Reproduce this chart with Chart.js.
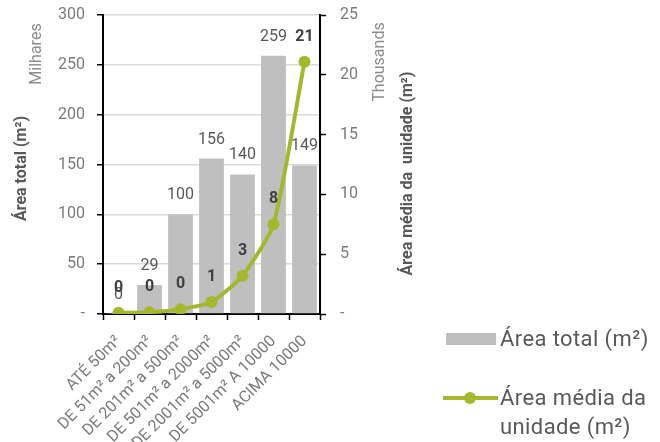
<!DOCTYPE html>
<html>
<head>
<meta charset="utf-8">
<script src="https://cdn.jsdelivr.net/npm/chart.js@4/dist/chart.umd.min.js"></script>
<style>
  html, body { margin: 0; padding: 0; background: #ffffff; }
  #wrap { position: relative; width: 660px; height: 442px; overflow: hidden; }
  #c { position: absolute; left: 0; top: 0; }
  .lg { position: absolute; font-family: Roboto, sans-serif; font-size: 22px; letter-spacing: 0.4px; color: #595959; white-space: nowrap; }
  .sw { position: absolute; }
</style>
</head>
<body>
<div id="wrap">
  <canvas id="c" width="660" height="442"></canvas>
  <div class="sw" style="left:446px;top:333px;width:50px;height:12px;background:#bfbfbf;"></div>
  <div class="lg" style="left:500px;top:326px;line-height:26px;">Área total (m²)</div>
  <div class="sw" style="left:443px;top:396px;width:55px;height:4px;background:#a5b82c;"></div>
  <div class="sw" style="left:464px;top:392px;width:12px;height:12px;border-radius:50%;background:#a5b82c;"></div>
  <div class="lg" style="left:500px;top:383px;line-height:29px;">Área média da<br>unidade (m²)</div>
</div>
<script>
// Categorias por faixa de área
const categories = [
  'ATÉ 50m²',
  'DE 51m² a 200m²',
  'DE 201m² a 500m²',
  'DE 501m² a 2000m²',
  'DE 2001m² a 5000m²',
  'DE 5001m² A 10000',
  'ACIMA 10000'
];
// Área total, em milhares de m²
const areaTotal = [0.4, 29, 100, 156, 140, 259, 149];
// Área média da unidade, em milhares de m²
const areaMedia = [0.1, 0.15, 0.4, 1.0, 3.2, 7.5, 21.1];
// Escalas dos eixos
const leftTicks = { min: 0, max: 300, step: 50 };
const rightTicks = { min: 0, max: 25, step: 5 };

const GREEN = '#a5b82c';
const TICK_COLOR = '#7a7a7a';
const FONT = 'Roboto, sans-serif';

const zeroDash = v => (v === 0 ? '-' : v);

// Rótulos de valor sobre as barras e os pontos
const valueLabels = {
  id: 'valueLabels',
  afterDatasetsDraw(chart) {
    const ctx = chart.ctx;
    ctx.save();
    ctx.textAlign = 'center';
    ctx.textBaseline = 'middle';
    ctx.font = '16px ' + FONT;
    ctx.fillStyle = '#595959';
    chart.getDatasetMeta(0).data.forEach((el, i) => {
      ctx.fillText(String(Math.round(areaTotal[i])), el.x, el.y - 19);
    });
    ctx.font = 'bold 16px ' + FONT;
    ctx.fillStyle = '#404040';
    chart.getDatasetMeta(1).data.forEach((el, i) => {
      ctx.fillText(String(Math.round(areaMedia[i])), el.x, el.y - 25);
    });
    ctx.restore();
  }
};

// Títulos dos eixos e unidades de exibição
const axisTitles = {
  id: 'axisTitles',
  afterDraw(chart) {
    const ctx = chart.ctx;
    const a = chart.chartArea;
    const midY = (a.top + a.bottom) / 2;
    const put = (text, x, y, font, color) => {
      ctx.save();
      ctx.translate(x, y);
      ctx.rotate(-Math.PI / 2);
      ctx.textAlign = 'center';
      ctx.textBaseline = 'middle';
      ctx.font = font;
      ctx.fillStyle = color;
      ctx.fillText(text, 0, 0);
      ctx.restore();
    };
    put('Área total (m²)', a.left - 81, midY + 4, 'bold 16px ' + FONT, '#595959');
    put('Milhares', a.left - 66, a.top + 39, '16px ' + FONT, '#8c8c8c');
    put('Thousands', a.right + 60, a.top + 47, '16px ' + FONT, '#8c8c8c');
    put('Área média da  unidade (m²)', a.right + 88, midY + 9, 'bold 16px ' + FONT, '#595959');
  }
};

// Largura fixa dos eixos verticais, sem folga extra acima/abaixo
const fixVertical = width => s => {
  s.width = width;
  s.paddingTop = 0;
  s.paddingBottom = 0;
};

new Chart(document.getElementById('c'), {
  data: {
    labels: categories,
    datasets: [
      {
        type: 'bar',
        label: 'Área total (m²)',
        data: areaTotal,
        yAxisID: 'y',
        backgroundColor: '#bfbfbf',
        borderWidth: 0,
        barPercentage: 0.8,
        categoryPercentage: 1.0,
        order: 2
      },
      {
        type: 'line',
        label: 'Área média da unidade (m²)',
        data: areaMedia,
        yAxisID: 'y1',
        borderColor: GREEN,
        backgroundColor: GREEN,
        borderWidth: 4,
        pointRadius: 6,
        pointBackgroundColor: GREEN,
        pointBorderColor: GREEN,
        pointBorderWidth: 0,
        tension: 0.2,
        order: 1
      }
    ]
  },
  options: {
    responsive: false,
    animation: false,
    layout: { padding: { left: 0, right: 240, top: 15, bottom: 0 } },
    plugins: {
      legend: { display: false },
      tooltip: { enabled: false }
    },
    scales: {
      x: {
        position: 'bottom',
        offset: true,
        grid: {
          offset: true,
          drawOnChartArea: false,
          drawTicks: true,
          tickLength: 6,
          tickColor: '#000000',
          tickWidth: 1.5
        },
        border: { color: '#000000', width: 2 },
        ticks: {
          autoSkip: false,
          maxRotation: 45,
          minRotation: 45,
          padding: 12,
          color: TICK_COLOR,
          font: { family: FONT, size: 16 }
        },
        afterFit(s) { s.height = 128; }
      },
      y: {
        position: 'left',
        min: leftTicks.min,
        max: leftTicks.max,
        grid: {
          color: '#d9d9d9',
          lineWidth: 1.5,
          drawTicks: true,
          tickLength: 6,
          tickColor: '#000000',
          tickWidth: 1.5
        },
        border: { color: '#000000', width: 2 },
        ticks: {
          stepSize: leftTicks.step,
          padding: 12,
          color: TICK_COLOR,
          font: { family: FONT, size: 16 },
          callback: zeroDash
        },
        afterFit: fixVertical(103)
      },
      y1: {
        position: 'right',
        min: rightTicks.min,
        max: rightTicks.max,
        z: 1,
        grid: {
          drawOnChartArea: false,
          drawTicks: true,
          tickLength: 6,
          tickColor: '#000000',
          tickWidth: 1.5
        },
        border: { color: '#000000', width: 2 },
        ticks: {
          stepSize: rightTicks.step,
          padding: 14,
          color: TICK_COLOR,
          font: { family: FONT, size: 16 },
          callback: zeroDash
        },
        afterFit: fixVertical(100)
      }
    }
  },
  plugins: [valueLabels, axisTitles]
});
</script>
</body>
</html>
